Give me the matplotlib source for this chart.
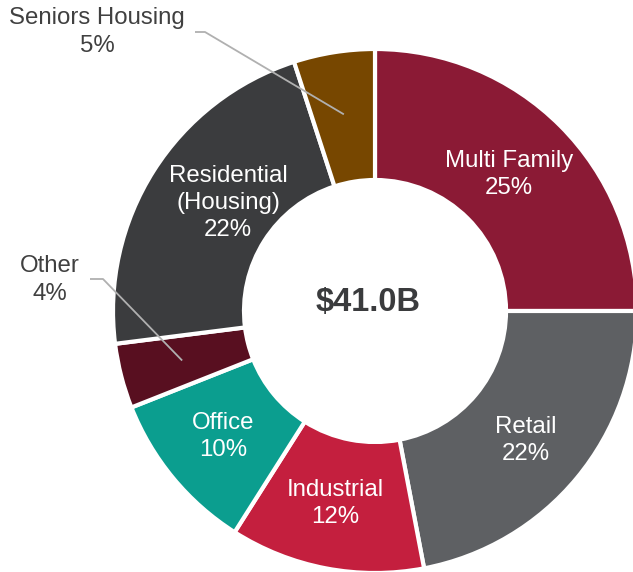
import numpy as np
import matplotlib.pyplot as plt
plt.rcParams["font.family"] = ["Liberation Sans", "DejaVu Sans"]

categories = ["Multi Family", "Retail", "Industrial", "Office", "Other",
              "Residential\n(Housing)", "Seniors Housing"]
shares = [25, 22, 12, 10, 4, 22, 5]
colors = ["#8B1A35", "#5E6063", "#C41F3E", "#0B9E8F", "#580F20", "#3B3C3E", "#774700"]
total_label = "$41.0B"

W, H = 633, 572
fig = plt.figure(figsize=(W / 100, H / 100), dpi=100)
ax = fig.add_axes([0, 0, 1, 1])

cx, cy, R = 375, H - 311, 262
wedges, _ = ax.pie(shares, colors=colors, startangle=90, counterclock=False,
                   center=(cx, cy), radius=R, frame=True,
                   wedgeprops=dict(width=R * 0.5, edgecolor="white", linewidth=3))

# labels inside the ring: (radius fraction, angle shift in degrees)
inside = {0: (0.73, 0.5), 1: (0.76, -1.0), 2: (0.75, -1.0), 3: (0.75, 0.0),
          5: (0.695, -3.9)}
for i, w in enumerate(wedges):
    if i in inside:
        frac, shift = inside[i]
        mid = np.deg2rad((w.theta1 + w.theta2) / 2 + shift)
        r = frac * R
        ax.text(cx + r * np.cos(mid), cy + r * np.sin(mid),
                f"{categories[i]}\n{shares[i]}%", ha="center", va="center",
                color="white", fontsize=17.3, linespacing=1.3)

# outside labels with leader lines
outside = {6: ((97, H - 32), (195, 205), H - 32),
           4: ((50, H - 280), (90, 103), H - 279)}
for i, ((tx, ty), (lx0, lx1), ly) in outside.items():
    w = wedges[i]
    mid = np.deg2rad((w.theta1 + w.theta2) / 2)
    r = 0.76 * R
    ex, ey = cx + r * np.cos(mid), cy + r * np.sin(mid)
    ax.text(tx, ty, f"{categories[i]}\n{shares[i]}%", ha="center", va="center",
            color="#404040", fontsize=17.3, linespacing=1.3)
    ax.plot([lx0, lx1, ex], [ly, ly, ey], color="#B0B0B0", lw=1.3,
            solid_capstyle="butt", zorder=5)

ax.text(cx - 7, cy + 8, total_label, ha="center", va="center", fontsize=23.5,
        fontweight="bold", color="#3A3B3D")

ax.set_xlim(0, W)
ax.set_ylim(0, H)
ax.set_aspect("equal")
ax.axis("off")
fig.savefig("out.png", dpi=100)
